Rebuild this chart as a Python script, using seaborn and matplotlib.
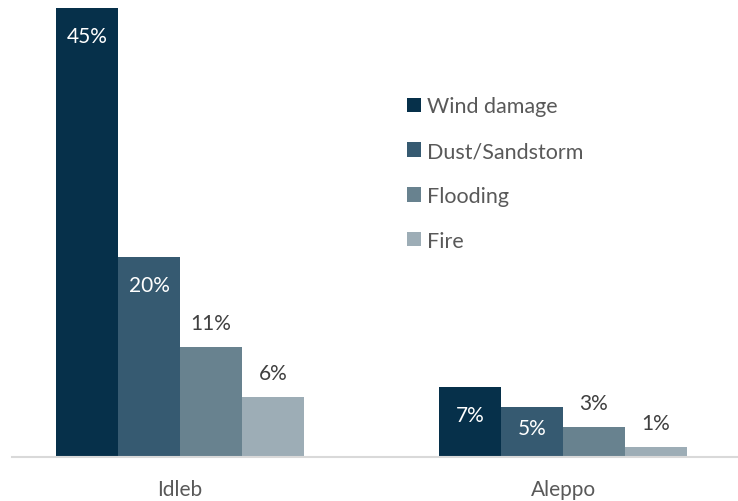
import matplotlib
matplotlib.use("Agg")
import matplotlib.pyplot as plt
import seaborn as sns
import pandas as pd
from matplotlib.patches import Patch

regions = ["Idleb", "Aleppo"]
hazards = ["Wind damage", "Dust/Sandstorm", "Flooding", "Fire"]
idleb_values = [45, 20, 11, 6]
aleppo_values = [7, 5, 3, 1]
colors = ["#06304a", "#365a71", "#68828f", "#9dadb6"]

rows = []
for h, a, b in zip(hazards, idleb_values, aleppo_values):
    rows.append({"region": "Idleb", "hazard": h, "value": a})
    rows.append({"region": "Aleppo", "hazard": h, "value": b})
df = pd.DataFrame(rows)

sns.set_theme(style="white")
plt.rcParams["font.family"] = ["Lato", "DejaVu Sans"]

fig = plt.figure(figsize=(7.38, 5.02), dpi=100)
W, H = 738, 502
ax = fig.add_axes([12 / W, (H - 458) / H, (738 - 12) / W, 449 / H])

sns.barplot(data=df, x="region", y="value", hue="hazard", order=regions,
            hue_order=hazards, palette=colors, width=0.648, gap=0,
            saturation=1, linewidth=0, legend=False, ax=ax)

ax.set_xlim(-0.439, 1.457)
ax.set_ylim(0, 45)
ax.set_xlabel("")
ax.set_ylabel("")
ax.set_yticks([])
for s in ["top", "right", "left"]:
    ax.spines[s].set_visible(False)
ax.spines["bottom"].set_color("#d9d9d9")
ax.spines["bottom"].set_linewidth(1.5)
ax.tick_params(axis="x", length=0, pad=16, labelsize=15, labelcolor="#595959")

# value labels: inside (white) for the two leading hazards, above (grey) otherwise
for hi, cont in enumerate(ax.containers):
    for bar in cont:
        v = bar.get_height()
        xc = bar.get_x() + bar.get_width() / 2
        if hi < 2:
            off = -21 if v < 6 else -28
            ax.annotate(f"{v:.0f}%", (xc, v), xytext=(0, off),
                        textcoords="offset pixels", ha="center", va="center",
                        color="white", fontsize=15)
        else:
            ax.annotate(f"{v:.0f}%", (xc, v), xytext=(0, 24),
                        textcoords="offset pixels", ha="center", va="center",
                        color="#404040", fontsize=15)

handles = [Patch(facecolor=c, edgecolor="none") for c in colors]
leg = fig.legend(handles, hazards, loc="upper left",
                 bbox_to_anchor=(388 / W, 1 - 78 / H), frameon=False,
                 fontsize=15.5, labelspacing=1.15, handlelength=0.65,
                 handleheight=0.65, handletextpad=0.25)
for t in leg.get_texts():
    t.set_color("#595959")

fig.savefig("out.png", dpi=100)
